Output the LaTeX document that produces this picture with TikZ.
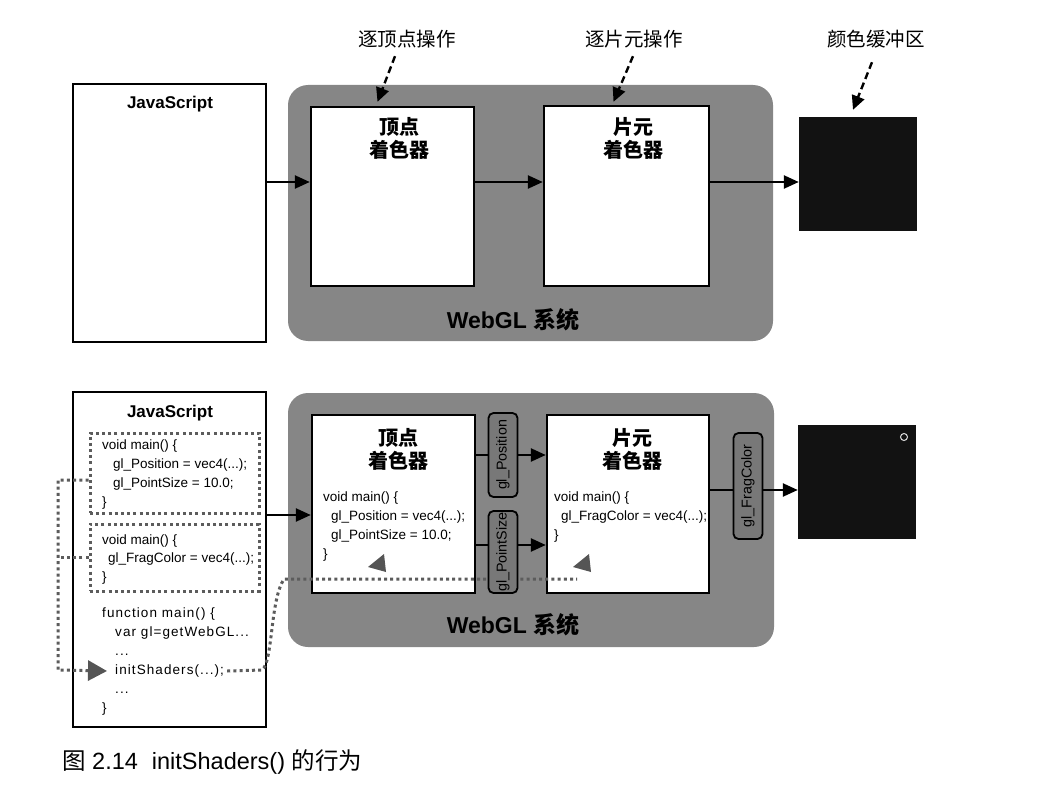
\documentclass[tikz,border=0pt]{standalone}
\usepackage{fontspec}
\setmainfont{Liberation Sans}
\newfontfamily\cjk{Noto Sans CJK SC}
\newfontfamily\spaced[LetterSpace=8]{Liberation Sans}
\usetikzlibrary{arrows.meta}
\definecolor{glgray}{RGB}{134,134,134}
\definecolor{taggray}{RGB}{120,120,120}
\definecolor{dotgray}{RGB}{92,92,92}
\definecolor{tipgray}{RGB}{85,85,85}
\definecolor{bufblack}{RGB}{18,18,18}
\tikzset{
	panel/.style={draw, line width=2.4pt, fill=white, inner sep=0pt},
	glarea/.style={fill=glgray, rounded corners=20pt, inner sep=0pt},
	tagbox/.style={draw, line width=1.8pt, fill=taggray, rounded corners=5pt, minimum width=29pt, inner sep=0pt, font=\fontsize{14.3}{16}\selectfont},
	srcbox/.style={draw=dotgray, line width=3pt, dash pattern=on 3pt off 3.2pt, inner sep=0pt},
	code/.style={align=left, anchor=north west, inner sep=0pt, font=\fontsize{13.5}{19}\selectfont},
	jstitle/.style={inner sep=0pt, font=\bfseries\fontsize{17}{19}\selectfont},
	title/.style={align=center, inner sep=0pt, font=\cjk\bfseries\fontsize{20}{23}\selectfont},
	stage/.style={inner sep=0pt, font=\cjk\fontsize{19.5}{22}\selectfont},
	glname/.style={inner sep=0pt, font=\bfseries\fontsize{23}{25}\selectfont},
	flow/.style={line width=2.4pt, -{Triangle[length=15pt,width=13pt]}},
	link/.style={line width=2.4pt},
	hint/.style={line width=2.4pt, dash pattern=on 7pt off 4pt, -{Triangle[length=14pt,width=13pt]}},
	setpath/.style={draw=dotgray, line width=3pt, dash pattern=on 3pt off 3.2pt}
}
\begin{document}
\begin{tikzpicture}[x=1pt,y=-1pt]
	\useasboundingbox (0,0) rectangle (1050,797);
	\coordinate (rowA) at (0,182);
	\coordinate (rowB) at (0,515);
	\coordinate (rowP) at (0,455);
	\coordinate (rowS) at (0,545);
	\coordinate (rowF) at (0,490);

	\node[stage] (opv) at (407,39) {逐顶点操作};
	\node[stage] (opf) at (634,39) {逐片元操作};
	\node[stage] (cbuf) at (876,39) {颜色缓冲区};

	\node[panel, minimum width=193pt, minimum height=258pt] (jsA) at (169.5,213) {};
	\node[jstitle] (jsnameA) at (170,104) {JavaScript};
	\node[glarea, minimum width=485pt, minimum height=256pt] (glA) at (530.5,213) {};
	\node[panel, minimum width=163pt, minimum height=179pt] (vsA) at (392.5,196.5) {};
	\node[panel, minimum width=165pt, minimum height=180pt] (fsA) at (626.5,196) {};
	\node[fill=bufblack, minimum width=118pt, minimum height=114pt, inner sep=0pt] (fbA) at (858,174) {};
	\node[title] (vsnameA) at (399,138.5) {顶点\\着色器};
	\node[title] (fsnameA) at (633,138.5) {片元\\着色器};
	\node[glname] (glnameA) at (513,320) {WebGL {\cjk 系统}};

	\draw[flow] (jsA.east |- rowA) -- (vsA.west |- rowA);
	\draw[flow] (vsA.east |- rowA) -- (fsA.west |- rowA);
	\draw[flow] (fsA.east |- rowA) -- (fbA.west |- rowA);
	\draw[hint] ([xshift=-12pt,yshift=-8pt]opv.south) -- ([xshift=-15pt,yshift=4pt]vsA.north);
	\draw[hint] ([xshift=-1pt,yshift=-8pt]opf.south) -- ([xshift=-13pt,yshift=3pt]fsA.north);
	\draw[hint] ([xshift=-4pt,yshift=-14pt]cbuf.south) -- ([xshift=-5pt,yshift=7pt]fbA.north);

	\node[panel, minimum width=193pt, minimum height=335pt] (jsB) at (169.5,559.5) {};
	\node[jstitle] (jsnameB) at (170,413) {JavaScript};
	\node[srcbox, minimum width=169pt, minimum height=80pt] (srcv) at (174.5,473) {};
	\node[srcbox, minimum width=169pt, minimum height=67pt] (srcf) at (174.5,557.5) {};
	\node[code] (srcvcode) at (102,436.2) {\strut void main() \{\\\hspace*{11pt}gl\_Position = vec4(...);\\\hspace*{11pt}gl\_PointSize = 10.0;\\\}};
	\node[code, font=\fontsize{13.5}{18.5}\selectfont] (srcfcode) at (102,531.2) {\strut void main() \{\\\hspace*{6pt}gl\_FragColor = vec4(...);\\\}};
	\node[code, font=\spaced\fontsize{13.5}{19}\selectfont] (fnhead) at (102,604.2) {\strut function main() \{\\\hspace*{13pt}var gl=getWebGL...\\\hspace*{13pt}...};
	\node[inner sep=0pt, anchor=base west, font=\spaced\fontsize{13.5}{19}\selectfont] (callinit) at (115,674.5) {initShaders(...);};
	\node[code, font=\spaced\fontsize{13.5}{19}\selectfont] (fntail) at (102,680.2) {\strut\hspace*{13pt}...\\\}};

	\node[glarea, minimum width=486pt, minimum height=254pt] (glB) at (531,520) {};
	\node[panel, minimum width=163pt, minimum height=178pt] (vsB) at (393.5,504) {};
	\node[panel, minimum width=162pt, minimum height=178pt] (fsB) at (628,504) {};

	\coordinate (railL) at (58,670);
	\coordinate (dropf) at (577,579);
	\draw[setpath, -{Triangle[length=19pt,width=20pt,color=tipgray]}] ([yshift=-7pt]srcv.west) -| (railL) -- ([xshift=-8pt]callinit.west);
	\draw[setpath] (srcf.west) -- (srcf.west -| railL);
	\draw[setpath] ([xshift=3pt]callinit.east) -- (262,670) .. controls (273,662) and (270,600) .. (284,579) -- (dropf);
	\fill[tipgray] (368,567) -- (384,554) -- (386,572) -- cycle;
	\fill[tipgray] (573,567) -- (589,554) -- (591,572) -- cycle;

	\node[tagbox, minimum height=84pt] (tagP) at (503,455) {\rotatebox{90}{gl\_Position}};
	\node[tagbox, minimum height=82pt] (tagS) at (503,552) {\rotatebox{90}{gl\_PointSize}};
	\node[tagbox, minimum height=106pt] (tagF) at (748,486) {\rotatebox{90}{gl\_FragColor}};
	\node[fill=bufblack, minimum width=118pt, minimum height=114pt, inner sep=0pt] (fbB) at (857,482) {};
	\draw[white!75!gray, line width=1pt] (904,437) circle (3.5);
	\node[title] (vsnameB) at (398,449) {顶点\\着色器};
	\node[title] (fsnameB) at (632.5,449) {片元\\着色器};
	\node[code] (vscode) at (323,488.2) {\strut void main() \{\\\hspace*{8pt}gl\_Position = vec4(...);\\\hspace*{8pt}gl\_PointSize = 10.0;\\\}};
	\node[code] (fscode) at (554,488.2) {\strut void main() \{\\\hspace*{7pt}gl\_FragColor = vec4(...);\\\}};
	\node[glname] (glnameB) at (513,625) {WebGL {\cjk 系统}};

	\draw[flow] (jsB.east |- rowB) -- (vsB.west |- rowB);
	\draw[link] (vsB.east |- rowP) -- (tagP.west |- rowP);
	\draw[flow] (tagP.east |- rowP) -- (fsB.west |- rowP);
	\draw[link] (vsB.east |- rowS) -- (tagS.west |- rowS);
	\draw[flow] (tagS.east |- rowS) -- (fsB.west |- rowS);
	\draw[link] (fsB.east |- rowF) -- (tagF.west |- rowF);
	\draw[flow] (tagF.east |- rowF) -- (fbB.west |- rowF);

	\node[inner sep=0pt, anchor=west, font=\fontsize{23.5}{26}\selectfont] (caption) at (62,762) {{\cjk 图} 2.14\hspace{14pt}initShaders() {\cjk 的行为}};
\end{tikzpicture}
\end{document}
